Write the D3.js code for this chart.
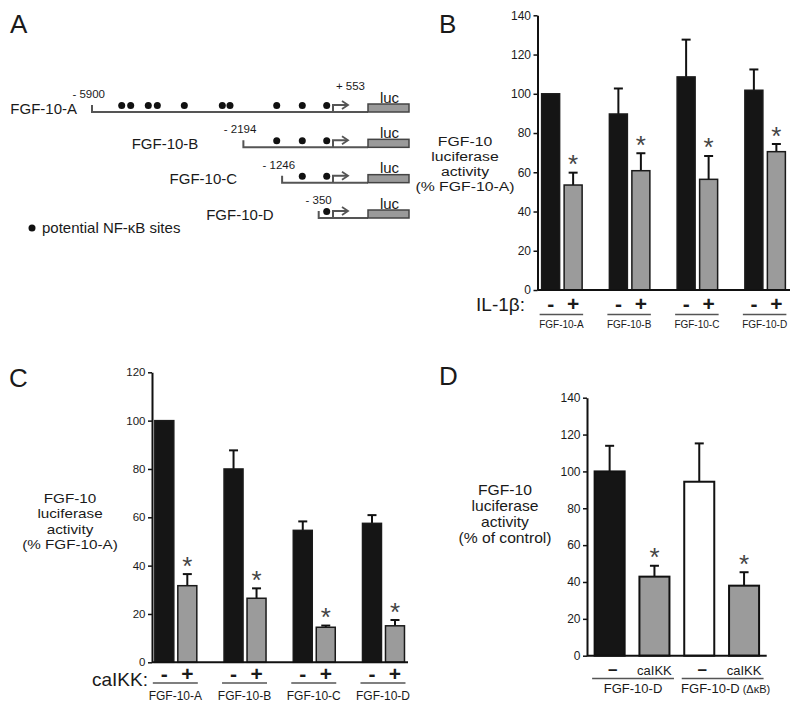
<!DOCTYPE html>
<html><head><meta charset="utf-8">
<script src="https://cdn.jsdelivr.net/npm/d3@7"></script>
<style>
body{margin:0;background:#fff}
svg{display:block}
text{font-family:"Liberation Sans",Arial,Helvetica,sans-serif;fill:#1a1a1a}
</style>
</head><body><svg id="c" width="800" height="705"></svg>
<script>
// ---------------- DATA ----------------
const constructs = ["FGF-10-A","FGF-10-B","FGF-10-C","FGF-10-D"];
const constructStart = [-5900,-2194,-1246,-350];
const startLabels = ["- 5900","- 2194","- 1246","- 350"];
const nfkbSites = [-5173,-4953,-4522,-4301,-3640,-2710,-2522,-1378,-752,-154];
const endLabel = "+ 553";
const reporterLabel = "luc";
const legendLabel = "potential NF-κB sites";
const panelLetters = ["A","B","C","D"];

const signs = ["-","+"];

const bTicks = [0,20,40,60,80,100,120,140];
const bControl   = [100, 89.7, 108.6, 101.8];
const bControlSD = [0, 13.0, 19.0, 10.6];
const bIL1       = [53.5, 60.8, 56.4, 70.5];
const bIL1SD     = [6.3, 8.9, 11.9, 3.9];
const bTreatLabel = "IL-1β:";
const bYLabel = ["FGF-10","luciferase","activity","(% FGF-10-A)"];

const cTicks = [0,20,40,60,80,100,120];
const cControl   = [100, 80.0, 54.6, 57.5];
const cControlSD = [0, 7.7, 3.7, 3.4];
const cIKK       = [31.7, 26.5, 14.5, 15.1];
const cIKKSD     = [4.8, 4.1, 0.7, 2.4];
const cTreatLabel = "caIKK:";
const cYLabel = ["FGF-10","luciferase","activity","(% FGF-10-A)"];

const dTicks = [0,20,40,60,80,100,120,140];
const dBars   = ["D-ctl","D-caIKK","dkB-ctl","dkB-caIKK"];
const dTreat  = ["–","caIKK","–","caIKK"];
const dValues = [100, 42.9, 94.4, 38.0];
const dSD     = [13.9, 5.9, 20.8, 7.3];
const dGroups = ["FGF-10-D","FGF-10-D"];
const dGroupSuffix = ["","(ΔκB)"];
const dYLabel = ["FGF-10","luciferase","activity","(% of control)"];

// ---------------- STYLE ----------------
const BLACK = "#151515", GRAY = "#9b9b9b", LINE = "#555", STAR = "#444";
const svg = d3.select("#c");
svg.append("rect").attr("width",800).attr("height",705).attr("fill","#fff");

const letterPos = [[10,33],[439,33],[9,387],[439,385]];
svg.selectAll("text.letter").data(panelLetters).join("text")
  .attr("class","letter")
  .attr("x",(d,i)=>letterPos[i][0]).attr("y",(d,i)=>letterPos[i][1])
  .attr("font-size",26).text(d=>d);

// ---------------- PANEL A ----------------
(function(){
  const g = svg.append("g");
  const xs = d3.scaleLinear().domain([-5900,0]).range([92,333]);
  const ys = d3.scalePoint().domain(constructs).range([112,218]);
  const lucX0 = 368, lucW = 41;
  constructs.forEach((c,i)=>{
    const y = ys(c), x0 = xs(constructStart[i]), xt = xs(0);
    g.append("path").attr("d",`M${x0},${y-7}V${y}H${lucX0}`)
      .attr("fill","none").attr("stroke",LINE).attr("stroke-width",2);
    g.append("path").attr("d",`M${xt},${y}V${y-7}H${xt+14}`)
      .attr("fill","none").attr("stroke",LINE).attr("stroke-width",2);
    g.append("path").attr("d",`M${xt+9},${y-11}L${xt+15},${y-7}L${xt+9},${y-3}`)
      .attr("fill","none").attr("stroke",LINE).attr("stroke-width",1.8);
    g.append("rect").attr("x",lucX0).attr("y",y-8).attr("width",lucW).attr("height",8)
      .attr("fill","#9a9a9a").attr("stroke","#444").attr("stroke-width",1.5);
    g.append("text").attr("x",lucX0+lucW/2+1).attr("y",y-9.5).attr("text-anchor","middle")
      .attr("font-size",15).text(reporterLabel);
    g.append("text").attr("x",x0+13).attr("y",y-14).attr("text-anchor","end")
      .attr("font-size",11.5).text(startLabels[i]);
    g.append("text").attr("x",i===0?77:x0-45).attr("y",y+1.5).attr("text-anchor","end")
      .attr("font-size",15).text(c);
    g.selectAll(null).data(nfkbSites.filter(s=>s>=constructStart[i])).join("circle")
      .attr("cx",s=>xs(s)).attr("cy",y-6.5).attr("r",3.5).attr("fill","#111");
    if(i===0){
      g.append("text").attr("x",lucX0-3).attr("y",y-22).attr("text-anchor","end")
        .attr("font-size",11.5).text(endLabel);
    }
  });
  g.append("circle").attr("cx",32).attr("cy",228).attr("r",3.5).attr("fill","#111");
  g.append("text").attr("x",42).attr("y",233).attr("font-size",15).text(legendLabel);
})();

// ---------------- helpers ----------------
function yAxis(g, y, ticks, x, fs){
  const ax = g.append("g").attr("transform",`translate(${x},0)`)
    .call(d3.axisLeft(y).tickValues(ticks).tickSize(4).tickSizeOuter(0).tickPadding(2.5));
  ax.select(".domain").attr("stroke","#111").attr("stroke-width",2);
  ax.selectAll(".tick line").attr("stroke","#111").attr("stroke-width",1.5);
  ax.selectAll(".tick text").attr("font-size",fs).attr("font-family",'"Liberation Sans",Arial,sans-serif').attr("fill","#222");
}
function errBars(g, data, y){
  const e = data.filter(d=>d.sd>0);
  g.selectAll(null).data(e).join("line")
    .attr("x1",d=>d.cx).attr("x2",d=>d.cx).attr("y1",d=>y(d.v)).attr("y2",d=>y(d.v+d.sd))
    .attr("stroke","#111").attr("stroke-width",2);
  g.selectAll(null).data(e).join("line")
    .attr("x1",d=>d.cx-4.5).attr("x2",d=>d.cx+4.5).attr("y1",d=>y(d.v+d.sd)).attr("y2",d=>y(d.v+d.sd))
    .attr("stroke","#111").attr("stroke-width",2);
}
function stars(g, data, y){
  g.selectAll(null).data(data.filter(d=>d.star)).join("text")
    .attr("x",d=>d.cx).attr("y",d=>y(d.v+d.sd)+0.5)
    .attr("text-anchor","middle").attr("font-size",26)
    .attr("font-family","'DejaVu Sans',sans-serif").style("fill",STAR).text("*");
}
function yLabel(g, lines, cx, y0, dy, fs, sx){
  g.selectAll(null).data(lines).join("text")
    .attr("x",0).attr("y",0)
    .attr("transform",(d,i)=>`translate(${cx},${y0+i*dy}) scale(${sx},1)`)
    .attr("text-anchor","middle")
    .attr("font-size",fs).text(d=>d);
}

function grouped(cfg){
  const g = svg.append("g");
  const y = d3.scaleLinear().domain([0,cfg.max]).range([cfg.y0,cfg.y1]);
  const x = d3.scaleBand().domain(constructs).range(cfg.xr);
  const c = x.bandwidth()/2;
  const xi = d3.scaleBand().domain(signs).range([c-cfg.half, c+cfg.half])
    .paddingInner(cfg.pi).paddingOuter(cfg.pi/2);
  const bw = xi.bandwidth();
  const data = [];
  constructs.forEach((k,i)=>{
    data.push({k,s:"-",v:cfg.ctl[i],sd:cfg.ctlSD[i],fill:BLACK,star:false});
    data.push({k,s:"+",v:cfg.trt[i],sd:cfg.trtSD[i],fill:GRAY,star:true});
  });
  data.forEach(d=>{d.x=x(d.k)+xi(d.s); d.cx=d.x+bw/2;});
  errBars(g,data,y);
  g.selectAll(null).data(data).join("rect")
    .attr("x",d=>d.x).attr("y",d=>y(d.v)).attr("width",bw).attr("height",d=>y(0)-y(d.v))
    .attr("fill",d=>d.fill).attr("stroke","#1a1a1a").attr("stroke-width",1.5);
  stars(g,data,y);
  yAxis(g,y,cfg.ticks,cfg.ax,cfg.tfs);
  g.append("line").attr("x1",cfg.ax).attr("x2",cfg.xEnd).attr("y1",y(0)).attr("y2",y(0))
    .attr("stroke","#111").attr("stroke-width",2);
  g.selectAll(null).data(data).join("text")
    .attr("x",d=>d.cx).attr("y",cfg.signY).attr("text-anchor","middle")
    .attr("font-size",21).attr("font-weight","bold").text(d=>d.s);
  constructs.forEach(k=>{
    const a = x(k)+xi("-")-2, b = x(k)+xi("+")+bw+1;
    g.append("line").attr("x1",a).attr("x2",b).attr("y1",cfg.ulY).attr("y2",cfg.ulY)
      .attr("stroke",LINE).attr("stroke-width",1.5);
    g.append("text").attr("x",(a+b)/2).attr("y",cfg.labY).attr("text-anchor","middle")
      .attr("font-size",cfg.labFs).text(k);
  });
  g.append("text").attr("x",cfg.treatX).attr("y",cfg.treatY).attr("text-anchor","end")
    .attr("font-size",19).text(cfg.treat);
  yLabel(g,cfg.ylab,cfg.ylx,cfg.yly,cfg.yldy,cfg.ylfs,cfg.ylsx);
}

// ---------------- PANEL B ----------------
grouped({max:140,y0:290,y1:15.3,xr:[528,799],half:22.5,pi:0.2,
  ctl:bControl,ctlSD:bControlSD,trt:bIL1,trtSD:bIL1SD,ticks:bTicks,ax:537.5,tfs:12,xEnd:790,
  signY:311,ulY:314.5,labY:328,labFs:10,treat:bTreatLabel,treatX:525,treatY:311,
  ylab:bYLabel,ylx:465,yly:145.5,yldy:15.3,ylfs:13.5,ylsx:1.17});

// ---------------- PANEL C ----------------
grouped({max:120,y0:662.3,y1:372.3,xr:[141.2,418.1],half:23,pi:0.174,
  ctl:cControl,ctlSD:cControlSD,trt:cIKK,trtSD:cIKKSD,ticks:cTicks,ax:152,tfs:11.5,xEnd:408,
  signY:681,ulY:683,labY:700,labFs:12,treat:cTreatLabel,treatX:148,treatY:686,
  ylab:cYLabel,ylx:70,yly:503,yldy:15.3,ylfs:13.5,ylsx:1.13});

// ---------------- PANEL D ----------------
(function(){
  const g = svg.append("g");
  const y = d3.scaleLinear().domain([0,140]).range([655.7,397.7]);
  const x = d3.scaleBand().domain(dBars).range([587,766.7]).paddingInner(0.33).paddingOuter(0.17);
  const bw = x.bandwidth();
  const fills = [BLACK,GRAY,"#fff",GRAY];
  const data = dBars.map((k,i)=>({k,v:dValues[i],sd:dSD[i],fill:fills[i],star:i%2===1,x:x(k),cx:x(k)+bw/2}));
  errBars(g,data,y);
  g.selectAll(null).data(data).join("rect")
    .attr("x",d=>d.x).attr("y",d=>y(d.v)).attr("width",bw).attr("height",d=>y(0)-y(d.v))
    .attr("fill",d=>d.fill).attr("stroke","#111").attr("stroke-width",2);
  stars(g,data,y);
  yAxis(g,y,dTicks,587,12);
  g.append("line").attr("x1",587).attr("x2",766.7).attr("y1",y(0)).attr("y2",y(0))
    .attr("stroke","#111").attr("stroke-width",2);
  g.selectAll(null).data(data).join("text")
    .attr("x",(d,i)=>d.cx+(dTreat[i]==="–"?3:0)).attr("y",675).attr("text-anchor","middle")
    .attr("font-size",(d,i)=>dTreat[i]==="–"?17:13).attr("font-weight",(d,i)=>dTreat[i]==="–"?"bold":"normal")
    .text((d,i)=>dTreat[i]);
  dGroups.forEach((gname,j)=>{
    const a = x(dBars[2*j])-2.5, b = x(dBars[2*j+1])+bw+4.5;
    g.append("line").attr("x1",a).attr("x2",b).attr("y1",678.5).attr("y2",678.5)
      .attr("stroke",LINE).attr("stroke-width",1.5);
    const t = g.append("text").attr("x",(a+b)/2+(j?3:0)).attr("y",693.3).attr("text-anchor","middle").attr("font-size",13);
    t.append("tspan").text(gname);
    if(dGroupSuffix[j]) t.append("tspan").attr("font-size",11).text(" "+dGroupSuffix[j]);
  });
  yLabel(g,dYLabel,505,494.5,16.3,14.5,1.08);
})();
</script></body></html>
